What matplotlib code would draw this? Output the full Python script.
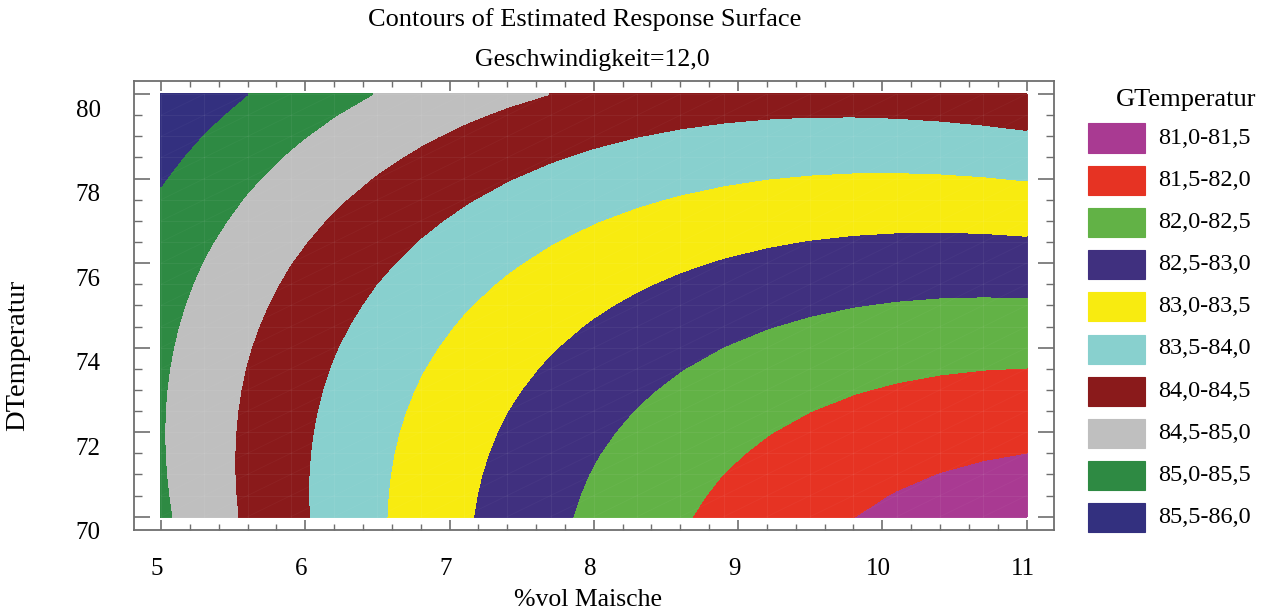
import numpy as np
import matplotlib
matplotlib.use("Agg")
import matplotlib.pyplot as plt
from matplotlib.patches import Rectangle
from matplotlib.transforms import ScaledTranslation

# Fitted second-order model for GTemperatur, centred at %vol = 8, DTemperatur = 75
center_x = 8.0
center_y = 75.0
b0 = 83.056
b_x = -0.452
b_y = 0.201
b_xx = 0.082
b_yy = 0.014
b_xy = 0.039

# Factor ranges (Geschwindigkeit held at 12,0)
x_range = [5.0, 11.0]
y_range = [70.0, 80.0]
n_grid = 21

# Contour bands and their colours
level_edges = [81.0, 81.5, 82.0, 82.5, 83.0, 83.5, 84.0, 84.5, 85.0, 85.5, 86.0]
band_colors = ["#A93A92", "#E63323", "#62B246", "#40307F", "#F8EB10",
               "#88D0CE", "#8A1A1B", "#BFBFBF", "#2E8A43", "#33307F"]

x_ticks = [5, 6, 7, 8, 9, 10, 11]
y_ticks = [70, 72, 74, 76, 78, 80]

plt.rcParams["font.family"] = ["Liberation Serif", "DejaVu Serif"]

W, H = 1269, 614
fig = plt.figure(figsize=(W / 100, H / 100), dpi=100)
ax = fig.add_axes([134 / W, 1 - 530 / H, (1054 - 134) / W, (530 - 81) / H])

xg = np.linspace(x_range[0], x_range[1], n_grid)
yg = np.linspace(y_range[0], y_range[1], n_grid)
X, Y = np.meshgrid(xg, yg)
U = X - center_x
V = Y - center_y
Z = b0 + b_x * U + b_y * V + b_xx * U ** 2 + b_yy * V ** 2 + b_xy * U * V

cs = ax.contourf(X, Y, Z, levels=level_edges, colors=band_colors)
cs.set_edgecolor("face")
cs.set_linewidth(0.6)

# faint mesh of the evaluation grid
mesh_kw = dict(color="white", lw=0.8, alpha=0.05, zorder=3)
for xv in xg:
    ax.plot([xv, xv], y_range, **mesh_kw)
for yv in yg:
    ax.plot(x_range, [yv, yv], **mesh_kw)
diag_kw = dict(color="white", lw=0.7, alpha=0.03, zorder=3)
for i in range(n_grid - 1):
    for j in range(n_grid - 1):
        ax.plot([xg[i], xg[i + 1]], [yg[j], yg[j + 1]], **diag_kw)

ax.set_xlim(4.813, 11.19)
ax.set_ylim(69.685, 80.31)

ax.set_xticks(x_ticks)
ax.set_xticks(np.arange(5, 11.01, 0.2), minor=True)
ax.set_yticks(y_ticks)
ax.set_yticks(np.arange(70, 80.01, 0.5), minor=True)
ax.set_xticklabels([str(t) for t in x_ticks])
ax.set_yticklabels([str(t) for t in y_ticks])

frame_col = "#6E6E6E"
for s in ax.spines.values():
    s.set_color(frame_col)
    s.set_linewidth(1.3)
ax.tick_params(axis="x", which="major", direction="in", length=7.5, width=1.2,
               color=frame_col, top=True, labelsize=18, pad=20)
ax.tick_params(axis="x", which="minor", direction="in", length=4.5, width=1.0,
               color=frame_col, top=True)
ax.tick_params(axis="y", which="major", direction="in", length=11.5, width=1.2,
               color=frame_col, right=True, labelsize=18, pad=24)
ax.tick_params(axis="y", which="minor", direction="in", length=5.5, width=1.0,
               color=frame_col, right=True)

for lab in ax.get_yticklabels():
    lab.set_transform(lab.get_transform() + ScaledTranslation(0, -0.14, fig.dpi_scale_trans))
for lab in ax.get_xticklabels():
    lab.set_transform(lab.get_transform() + ScaledTranslation(-0.04, 0, fig.dpi_scale_trans))

# titles and axis labels
fig.text(585 / W, 1 - 20 / H, "Contours of Estimated Response Surface",
         ha="center", va="center", fontsize=19)
fig.text(592 / W, 1 - 60 / H, "Geschwindigkeit=12,0",
         ha="center", va="center", fontsize=18.6)
fig.text(588 / W, 1 - 600 / H, "%vol Maische", ha="center", va="center", fontsize=18.5)
fig.text(18 / W, 1 - 355 / H, "DTemperatur", ha="center", va="center",
         rotation=90, fontsize=20.5)

# legend
fig.text(1186 / W, 1 - 100 / H, "GTemperatur", ha="center", va="center", fontsize=19)
row0, step = 138, 42.2
for k, col in enumerate(band_colors):
    yc = row0 + k * step
    fig.add_artist(Rectangle((1088 / W, 1 - (yc + 14.5) / H), 57 / W, 29 / H,
                             transform=fig.transFigure, facecolor=col,
                             edgecolor=col, lw=0.8))
    lo, hi = level_edges[k], level_edges[k + 1]
    txt = f"{lo:.1f}-{hi:.1f}".replace(".", ",")
    fig.text(1158 / W, 1 - yc / H, txt, ha="left", va="center", fontsize=17.5)

fig.savefig("out.png", dpi=100)
